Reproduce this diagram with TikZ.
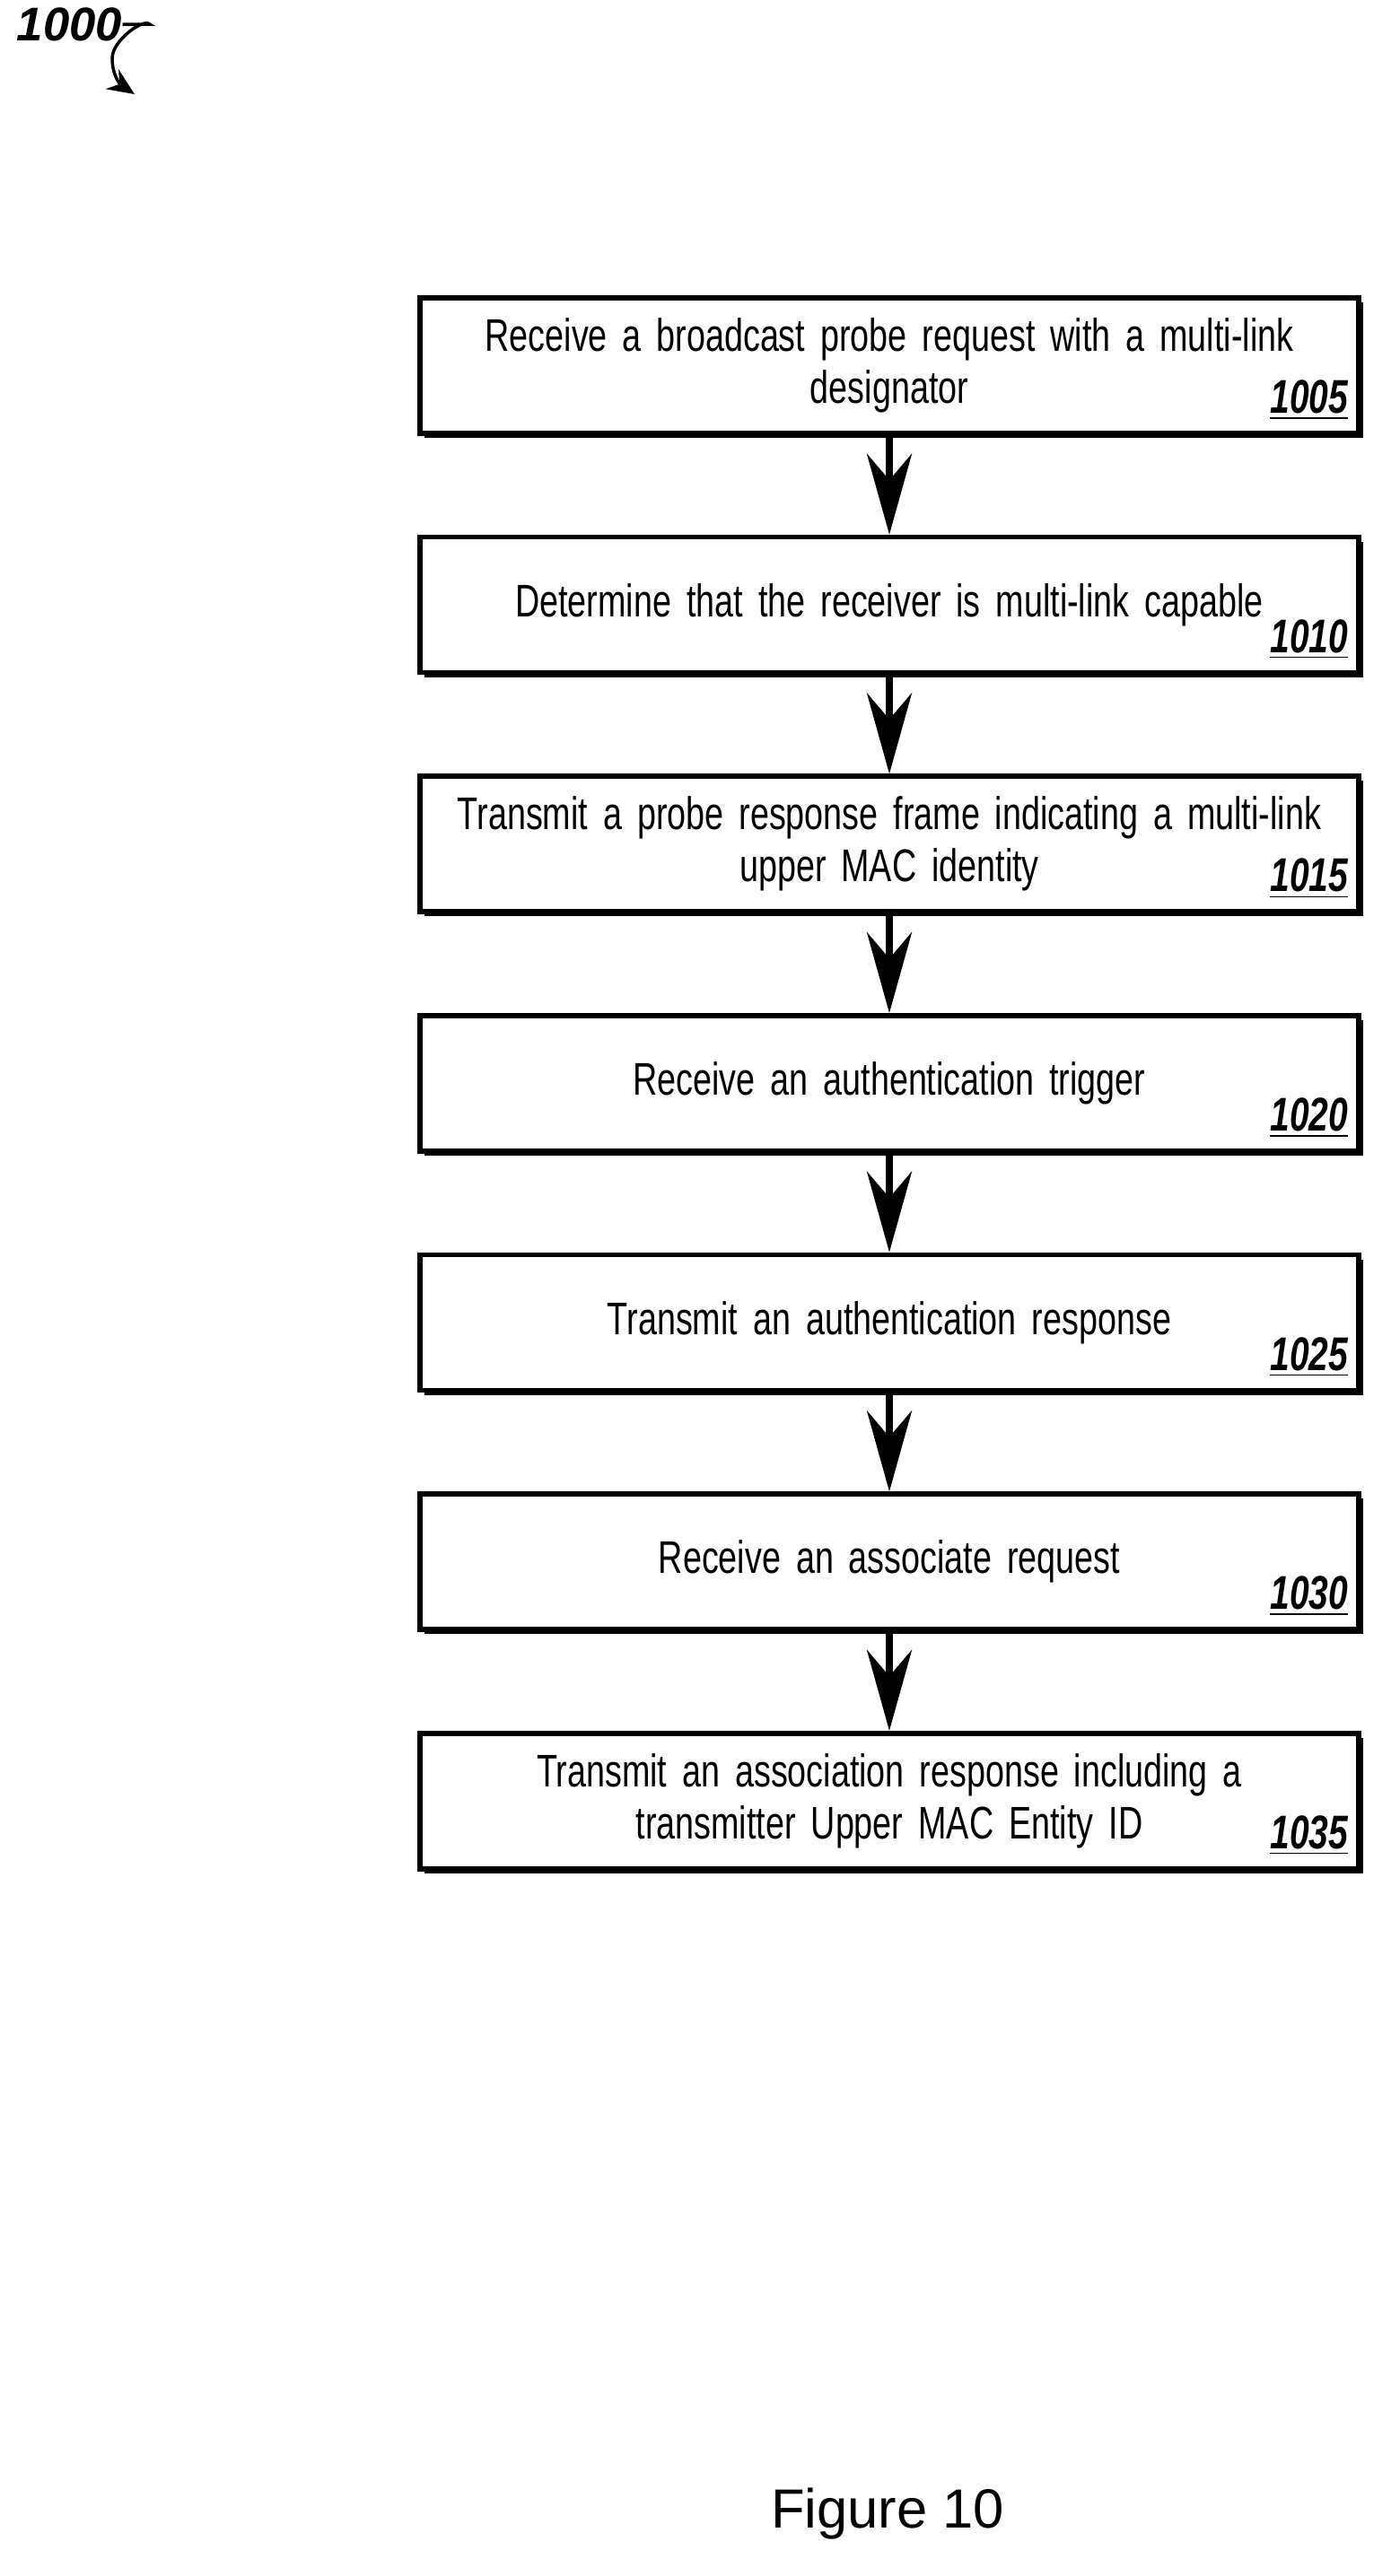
\documentclass[tikz,border=0pt]{standalone}
\usepackage{fontspec}
\setmainfont{Liberation Sans}
\newfontfamily\narrowfont[FakeStretch=0.74]{Liberation Sans}
\usetikzlibrary{positioning,shadows,arrows.meta}
\tikzset{
  stepbox/.style={draw, line width=1.6pt, fill=white, minimum width=10.46cm, minimum height=1.51cm,
    text width=10.2cm, align=center, font=\narrowfont\fontsize{14.5}{16.5}\selectfont,
    drop shadow={shadow xshift=.05cm, shadow yshift=-.05cm, fill=black, opacity=1}},
  num/.style={font=\narrowfont\fontsize{15}{17}\selectfont\bfseries\itshape, anchor=south east, inner sep=0pt},
  flow/.style={line width=2.2pt, -{Stealth[length=9mm, width=5mm]}}
}
\newcommand{\stepno}[1]{\underline{#1}}
\begin{document}
\begin{tikzpicture}[node distance=1.1cm]
    \useasboundingbox (0,0) rectangle (15.49,-28.71);

    % reference label
    \node[font=\fontsize{15}{17}\selectfont\bfseries\itshape, anchor=west, inner sep=0pt] (fig) at (0.18,-0.27) {1000};
    \coordinate (figend) at (1.5,-1.05);
    \draw[line width=1pt, -{Stealth[length=3mm, width=2.6mm]}] (fig.east) -- ++(0.3,0) .. controls (1.6,-0.2) and (1.25,-0.45) .. (1.25,-0.65) .. controls (1.25,-0.85) and (1.35,-0.95) .. (figend);

    % steps
    \node[stepbox] (s1005) at (9.91,-4.075) {Receive a broadcast probe request with a multi-link\\designator};
    \node[stepbox, below=of s1005] (s1010) {Determine that the receiver is multi-link capable};
    \node[stepbox, below=of s1010] (s1015) {Transmit a probe response frame indicating a multi-link\\upper MAC identity};
    \node[stepbox, below=of s1015] (s1020) {Receive an authentication trigger};
    \node[stepbox, below=of s1020] (s1025) {Transmit an authentication response};
    \node[stepbox, below=of s1025] (s1030) {Receive an associate request};
    \node[stepbox, below=of s1030] (s1035) {Transmit an association response including a\\transmitter Upper MAC Entity ID};

    % step numbers
    \foreach \n in {1005,1010,1015,1020,1025,1030,1035}
        \node[num] (n\n) at ([xshift=-0.14cm, yshift=0.17cm]s\n.south east) {\stepno{\n}};

    % arrows
    \foreach \a/\b in {1005/1010,1010/1015,1015/1020,1020/1025,1025/1030,1030/1035}
        \draw[flow] (s\a) -- (s\b);

    \node[font=\fontsize{17.5}{20}\selectfont] (caption) at (9.89,-28.02) {Figure 10};
\end{tikzpicture}
\end{document}
